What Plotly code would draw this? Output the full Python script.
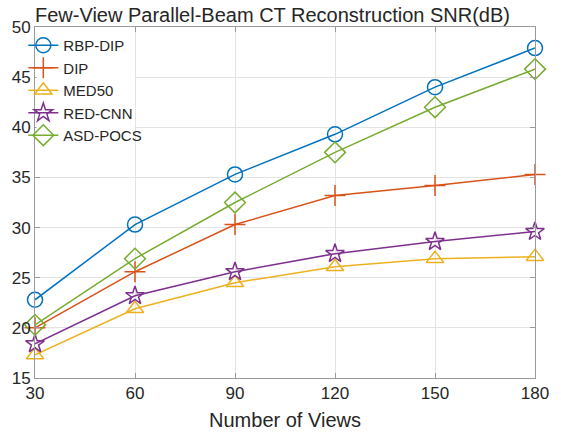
import plotly.graph_objects as go

views = [30, 60, 90, 120, 150, 180]
rbp_dip = [22.8, 30.3, 35.3, 39.3, 44.0, 47.9]
dip = [20.0, 25.6, 30.3, 33.2, 34.2, 35.3]
med50 = [17.3, 21.9, 24.5, 26.1, 26.9, 27.1]
red_cnn = [18.4, 23.2, 25.6, 27.4, 28.6, 29.6]
asd_pocs = [20.3, 26.9, 32.5, 37.5, 42.0, 45.8]

series = [
    ("RBP-DIP", rbp_dip, "#0072BD", "circle-open", 15),
    ("DIP", dip, "#D95319", "cross-thin-open", 15),
    ("MED50", med50, "#EDB120", "triangle-up-open", 15),
    ("RED-CNN", red_cnn, "#7E2F8E", "star-open", 14),
    ("ASD-POCS", asd_pocs, "#77AC30", "diamond-open", 16),
]

fig = go.Figure()
for name, vals, color, sym, sz in series:
    fig.add_trace(go.Scatter(
        x=views, y=vals, name=name, mode="lines+markers",
        cliponaxis=False,
        line=dict(color=color, width=1.5),
        marker=dict(symbol=sym, size=sz, color=color,
                    line=dict(color=color, width=1.5)),
    ))

font_family = "Liberation Sans, Arial, sans-serif"
axis_common = dict(
    showgrid=True, gridcolor="#e3e3e3", gridwidth=1,
    showline=True, linecolor="#9a9a9a", linewidth=1, mirror="ticks",
    ticks="inside", ticklen=5, tickcolor="#9a9a9a",
    tickfont=dict(family=font_family, size=17, color="#262626"),
    zeroline=False,
)

W, H = 561, 439
L, R, T, B = 33, 15, 27, 58
pw, ph = W - L - R, H - T - B

fig.update_layout(
    width=W, height=H,
    margin=dict(l=L, r=R, t=T, b=B),
    paper_bgcolor="white", plot_bgcolor="white",
    title=dict(text="Few-View Parallel-Beam CT Reconstruction SNR(dB)",
               font=dict(family=font_family, size=20, color="#262626"),
               x=0, xref="paper", xanchor="left",
               y=1 - 15 / H, yref="container", yanchor="middle"),
    xaxis=dict(range=[30, 180], tickvals=views, **axis_common,
               title=dict(text="Number of Views", standoff=10,
                          font=dict(family=font_family, size=20, color="#262626"))),
    yaxis=dict(range=[15, 50], dtick=5, tick0=15, **axis_common),
    legend=dict(x=-12 / pw, y=1 - 2 / ph, xanchor="left", yanchor="top",
                bgcolor="rgba(255,255,255,0)", borderwidth=0,
                font=dict(family=font_family, size=15, color="#262626"),
                tracegroupgap=0, itemwidth=30),
    shapes=[dict(type="rect", xref="paper", yref="paper", layer="above",
                 x0=1.5 / pw, x1=(135 - L) / pw,
                 y0=1 - (145 - T) / ph, y1=1 - 1.5 / ph,
                 fillcolor="white", line=dict(width=0))],
    showlegend=True,
)

fig.write_html("out.html")
